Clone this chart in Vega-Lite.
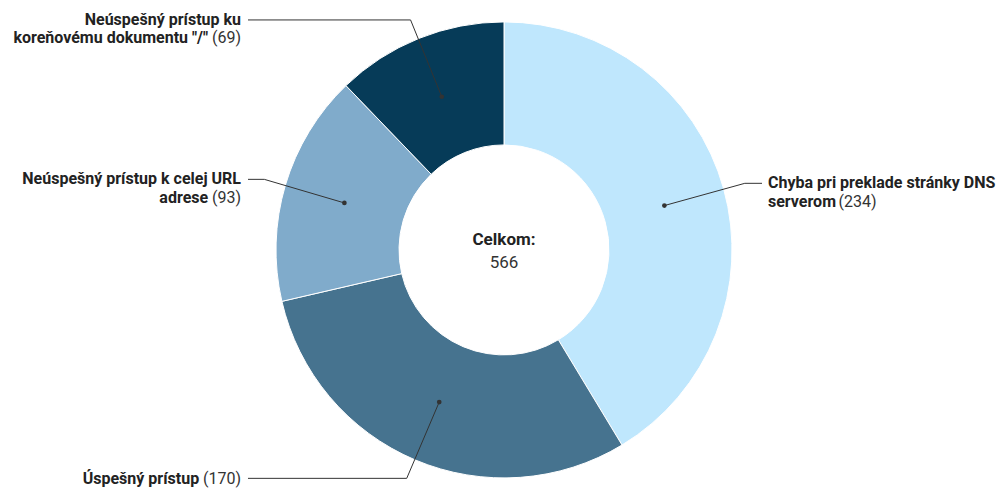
{
  "$schema": "https://vega.github.io/schema/vega-lite/v6.json",
  "width": 998,
  "height": 488,
  "padding": 0,
  "autosize": {"type": "fit", "contains": "padding"},
  "config": {"view": {"stroke": null}, "font": "Roboto", "text": {"font": "Roboto"}},
  "data": {
    "values": [
      {"category": "Chyba pri preklade stránky DNS serverom", "value": 234, "head": "Chyba pri preklade stránky DNS", "tail": "serverom"},
      {"category": "Úspešný prístup", "value": 170, "head": "", "tail": "Úspešný prístup"},
      {"category": "Neúspešný prístup k celej URL adrese", "value": 93, "head": "Neúspešný prístup k celej URL", "tail": "adrese"},
      {"category": "Neúspešný prístup ku koreňovému dokumentu \"/\"", "value": 69, "head": "Neúspešný prístup ku", "tail": "koreňovému dokumentu \"/\""}
    ]
  },
  "transform": [
    {"joinaggregate": [{"op": "sum", "field": "value", "as": "total"}]},
    {"window": [{"op": "sum", "field": "value", "as": "cum"}], "sort": [{"field": "value", "order": "descending"}], "frame": [null, 0]},
    {"calculate": "2*PI*(datum.cum - datum.value/2)/datum.total", "as": "mid"},
    {"calculate": "166.5*sin(datum.mid)", "as": "dotX"},
    {"calculate": "-166.5*cos(datum.mid)", "as": "dotY"},
    {"calculate": "250*sin(datum.mid)", "as": "elbX"},
    {"calculate": "-250*cos(datum.mid)", "as": "elbY"},
    {"calculate": "sin(datum.mid) >= 0 ? 'right' : 'left'", "as": "side"},
    {"calculate": "datum.side == 'right' ? 258 : -256", "as": "endX"},
    {"calculate": "datum.side == 'right' ? 264 : -263", "as": "labX"},
    {"calculate": "datum.head == '' ? datum.elbY + 1 : datum.elbY + 18.5", "as": "lastY"},
    {"calculate": "'(' + datum.value + ')'", "as": "countText"},
    {"calculate": "datum.labX + length(datum.tail)*0.52*16 + 0.25*16", "as": "countX"},
    {"calculate": "datum.labX - (0.25 + 0.68 + length('' + datum.value)*0.5615)*16", "as": "tailX"}
  ],
  "encoding": {
    "x": {"type": "quantitative", "scale": {"domain": [-504, 494], "nice": false, "zero": false}, "axis": null},
    "y": {"type": "quantitative", "scale": {"domain": [-252, 236], "nice": false, "zero": false, "reverse": true}, "axis": null}
  },
  "layer": [
    {
      "mark": {"type": "arc", "innerRadius": 105, "outerRadius": 228, "stroke": "#ffffff", "strokeWidth": 1},
      "encoding": {
        "x": {"datum": 0, "type": "quantitative"},
        "y": {"datum": 0, "type": "quantitative"},
        "theta": {"field": "value", "type": "quantitative", "stack": true},
        "order": {"field": "value", "sort": "descending"},
        "color": {
          "field": "category",
          "type": "nominal",
          "legend": null,
          "scale": {
            "domain": ["Chyba pri preklade stránky DNS serverom", "Úspešný prístup", "Neúspešný prístup k celej URL adrese", "Neúspešný prístup ku koreňovému dokumentu \"/\""],
            "range": ["#bfe7fd", "#46738f", "#80abcb", "#063b58"]
          }
        }
      }
    },
    {
      "mark": {"type": "rule", "color": "#333333", "strokeWidth": 1},
      "encoding": {
        "x": {"field": "dotX"},
        "y": {"field": "dotY"},
        "x2": {"field": "elbX"},
        "y2": {"field": "elbY"}
      }
    },
    {
      "mark": {"type": "rule", "color": "#333333", "strokeWidth": 1},
      "encoding": {
        "x": {"field": "elbX"},
        "y": {"field": "elbY"},
        "x2": {"field": "endX"},
        "y2": {"field": "elbY"}
      }
    },
    {
      "mark": {"type": "circle", "color": "#333333", "size": 22, "opacity": 1},
      "encoding": {
        "x": {"field": "dotX"},
        "y": {"field": "dotY"}
      }
    },
    {
      "transform": [{"filter": "datum.side == 'right'"}],
      "mark": {"type": "text", "align": "left", "baseline": "middle", "fontSize": 16, "fontWeight": "bold", "color": "#222222"},
      "encoding": {"x": {"field": "labX"}, "y": {"field": "elbY"}, "text": {"field": "head"}}
    },
    {
      "transform": [{"filter": "datum.side == 'left'"}],
      "mark": {"type": "text", "align": "right", "baseline": "middle", "fontSize": 16, "fontWeight": "bold", "color": "#222222"},
      "encoding": {"x": {"field": "labX"}, "y": {"field": "elbY"}, "text": {"field": "head"}}
    },
    {
      "transform": [{"filter": "datum.side == 'right'"}],
      "mark": {"type": "text", "align": "left", "baseline": "middle", "fontSize": 16, "fontWeight": "bold", "color": "#222222"},
      "encoding": {"x": {"field": "labX"}, "y": {"field": "lastY"}, "text": {"field": "tail"}}
    },
    {
      "transform": [{"filter": "datum.side == 'right'"}],
      "mark": {"type": "text", "align": "left", "baseline": "middle", "fontSize": 16, "color": "#333333"},
      "encoding": {"x": {"field": "countX"}, "y": {"field": "lastY"}, "text": {"field": "countText"}}
    },
    {
      "transform": [{"filter": "datum.side == 'left'"}],
      "mark": {"type": "text", "align": "right", "baseline": "middle", "fontSize": 16, "fontWeight": "bold", "color": "#222222"},
      "encoding": {"x": {"field": "tailX"}, "y": {"field": "lastY"}, "text": {"field": "tail"}}
    },
    {
      "transform": [{"filter": "datum.side == 'left'"}],
      "mark": {"type": "text", "align": "right", "baseline": "middle", "fontSize": 16, "color": "#333333"},
      "encoding": {"x": {"field": "labX"}, "y": {"field": "lastY"}, "text": {"field": "countText"}}
    },
    {
      "transform": [{"aggregate": [{"op": "sum", "field": "value", "as": "sumTotal"}]}],
      "mark": {"type": "text", "align": "center", "baseline": "middle", "fontSize": 17, "fontWeight": "bold", "color": "#222222"},
      "encoding": {"x": {"datum": 0}, "y": {"datum": -10}, "text": {"value": "Celkom:"}}
    },
    {
      "transform": [{"aggregate": [{"op": "sum", "field": "value", "as": "sumTotal"}]}],
      "mark": {"type": "text", "align": "center", "baseline": "middle", "fontSize": 17, "color": "#333333"},
      "encoding": {"x": {"datum": 0}, "y": {"datum": 13}, "text": {"field": "sumTotal", "type": "quantitative"}}
    }
  ]
}
